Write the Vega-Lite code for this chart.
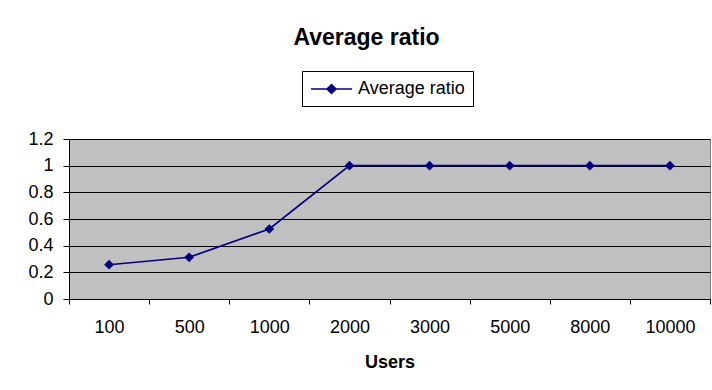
{
  "$schema": "https://vega.github.io/schema/vega-lite/v6.json",
  "autosize": "none",
  "width": 641,
  "height": 160,
  "padding": {"left": 69, "top": 139, "right": 2, "bottom": 91},
  "background": "white",
  "title": {
    "text": "Average ratio",
    "font": "Liberation Sans",
    "fontSize": 23,
    "fontWeight": "bold",
    "color": "black",
    "anchor": "middle",
    "frame": "group",
    "offset": 21,
    "dx": -23
  },
  "config": {
    "font": "Liberation Sans",
    "view": {"fill": "#C0C0C0", "stroke": "#808080", "strokeWidth": 1}
  },
  "data": {
    "values": [
      {"users": "100", "ratio": 0.257, "series": "Average ratio"},
      {"users": "500", "ratio": 0.313, "series": "Average ratio"},
      {"users": "1000", "ratio": 0.525, "series": "Average ratio"},
      {"users": "2000", "ratio": 1.0, "series": "Average ratio"},
      {"users": "3000", "ratio": 1.0, "series": "Average ratio"},
      {"users": "5000", "ratio": 1.0, "series": "Average ratio"},
      {"users": "8000", "ratio": 1.0, "series": "Average ratio"},
      {"users": "10000", "ratio": 1.0, "series": "Average ratio"}
    ]
  },
  "encoding": {
    "x": {
      "field": "users",
      "type": "ordinal",
      "sort": null,
      "scale": {"type": "band", "paddingInner": 0, "paddingOuter": 0},
      "axis": {
        "title": "Users",
        "titleFont": "Liberation Sans",
        "titleFontSize": 18,
        "titleFontWeight": "bold",
        "titleColor": "black",
        "titlePadding": 17,
        "labelAngle": 0,
        "labelFont": "Liberation Sans",
        "labelFontSize": 18,
        "labelColor": "black",
        "labelPadding": 14,
        "tickBand": "extent",
        "tickSize": 5,
        "tickColor": "black",
        "domainColor": "black",
        "grid": false
      }
    },
    "y": {
      "field": "ratio",
      "type": "quantitative",
      "scale": {"domain": [0, 1.2], "nice": false, "zero": true},
      "axis": {
        "title": null,
        "values": [0, 0.2, 0.4, 0.6, 0.8, 1.0, 1.2],
        "format": ".1~f",
        "labelFont": "Liberation Sans",
        "labelFontSize": 18,
        "labelColor": "black",
        "labelPadding": 10,
        "tickSize": 6,
        "tickColor": "black",
        "domainColor": "black",
        "grid": true,
        "gridColor": "black",
        "gridOpacity": 1,
        "gridWidth": 1
      }
    },
    "color": {
      "field": "series",
      "type": "nominal",
      "scale": {"range": ["#000080"]},
      "legend": {
        "title": null,
        "orient": "none",
        "legendX": 233,
        "legendY": -68,
        "direction": "vertical",
        "strokeColor": "black",
        "fillColor": "white",
        "padding": 8,
        "symbolType": "M-1,0L3.56,0M0.78,0L1.28,-0.5L1.78,0L1.28,0.5Z",
        "symbolSize": 324,
        "symbolStrokeWidth": 1.5,
        "symbolStrokeColor": "#000080",
        "symbolFillColor": "#000080",
        "labelFont": "Liberation Sans",
        "labelFontSize": 18,
        "labelColor": "black",
        "labelOffset": 28
      }
    }
  },
  "layer": [
    {"mark": {"type": "line", "strokeWidth": 1.7}},
    {"mark": {"type": "point", "shape": "diamond", "filled": true, "size": 95, "opacity": 1}}
  ]
}
